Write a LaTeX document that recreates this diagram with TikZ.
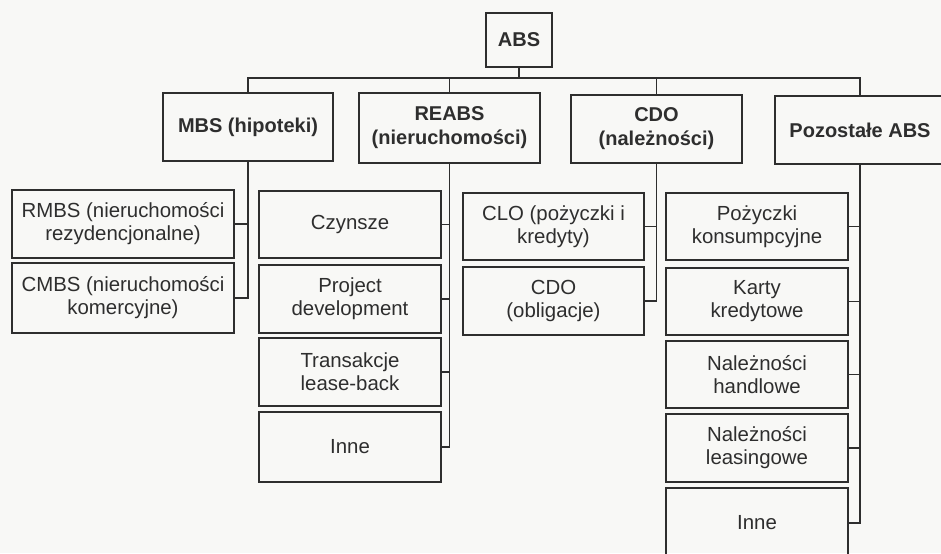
\documentclass[tikz,border=0pt]{standalone}
\usepackage{fontspec}
\setmainfont{Liberation Sans}
\definecolor{ink}{HTML}{2E2E2E}
\definecolor{paper}{HTML}{F8F8F6}
% box from corner (x1,y1) to (x2,y2), pixel units
\newcommand\bx[7]{\node[#6, minimum width={(#4-#2)*0.75pt}, minimum height={(#5-#3)*0.75pt}] (#1) at ({(#2+#4)/2},{(#3+#5)/2}) {#7};}
\tikzset{
  topbox/.style={draw=ink, line width=2.1pt, inner sep=0pt, outer sep=0pt, align=center,
    text=ink, font=\fontsize{15pt}{18pt}\selectfont\bfseries},
  catbox/.style={draw=ink, line width=2.1pt, inner sep=0pt, outer sep=0pt, align=center,
    text=ink, font=\fontsize{15pt}{18pt}\selectfont\bfseries},
  subbox/.style={draw=ink, line width=1.5pt, inner sep=0pt, outer sep=0pt, align=center,
    text=ink, font=\fontsize{15.3pt}{17.3pt}\selectfont},
  conn/.style={draw=ink, line width=1.1pt},
}
\begin{document}
\begin{tikzpicture}[x=0.75pt,y=-0.75pt]
\useasboundingbox (0,0) rectangle (941,553);
\fill[paper] (0,0) rectangle (941,553);
\clip (0,0) rectangle (941,553);

% root
\bx{abs}{486}{13}{552}{67}{topbox}{ABS}

% categories
\bx{mbs}{163}{93}{333}{161}{catbox}{MBS (hipoteki)}
\bx{reabs}{359}{93}{540}{163}{catbox}{REABS\\(nieruchomości)}
\bx{cdo}{571}{95}{742}{163}{catbox}{CDO\\(należności)}
\bx{poz}{775}{96}{945}{164}{catbox}{Pozostałe ABS}

% MBS
\bx{rmbs}{12}{190}{234}{258}{subbox}{RMBS (nieruchomości\\rezydencjonalne)}
\bx{cmbs}{12}{263}{234}{333}{subbox}{CMBS (nieruchomości\\komercyjne)}

% REABS
\bx{czyn}{259}{191}{441}{258}{subbox}{Czynsze}
\bx{proj}{259}{265}{441}{333}{subbox}{Project\\development}
\bx{trans}{259}{338}{441}{406}{subbox}{Transakcje\\lease-back}
\bx{inneA}{259}{412}{441}{482}{subbox}{Inne}

% CDO
\bx{clo}{463}{193}{644}{260}{subbox}{CLO (pożyczki i\\kredyty)}
\bx{cdoo}{463}{267}{644}{335}{subbox}{CDO\\(obligacje)}

% other ABS
\bx{pozk}{666}{193}{848}{260}{subbox}{Pożyczki\\konsumpcyjne}
\bx{karty}{666}{268}{848}{335}{subbox}{Karty\\kredytowe}
\bx{handl}{666}{341}{848}{408}{subbox}{Należności\\handlowe}
\bx{leas}{666}{414}{848}{482}{subbox}{Należności\\leasingowe}
\bx{inneB}{666}{488}{848}{558}{subbox}{Inne}

% bus under the root
\coordinate (bus) at (519,78);
\draw[conn] (abs.south) -- (bus);
\draw[conn] (mbs.north) -- (mbs.north |- bus) -- (poz.north |- bus) -- (poz.north);
\draw[conn] (reabs.north) -- (reabs.north |- bus);
\draw[conn] (cdo.north) -- (cdo.north |- bus);

% MBS branch
\draw[conn] (mbs.south) -- (mbs.south |- cmbs.east) -- (cmbs.east);
\draw[conn] (rmbs.east) -- (rmbs.east -| mbs.south);

% REABS branch
\draw[conn] (reabs.south) -- (reabs.south |- inneA.east) -- (inneA.east);
\foreach \n in {czyn,proj,trans}
  \draw[conn] (\n.east) -- (\n.east -| reabs.south);

% CDO branch
\draw[conn] (cdo.south) -- (cdo.south |- cdoo.east) -- (cdoo.east);
\draw[conn] (clo.east) -- (clo.east -| cdo.south);

% other ABS branch
\draw[conn] (poz.south) -- (poz.south |- inneB.east) -- (inneB.east);
\foreach \n in {pozk,karty,handl,leas}
  \draw[conn] (\n.east) -- (\n.east -| poz.south);
\end{tikzpicture}
\end{document}
